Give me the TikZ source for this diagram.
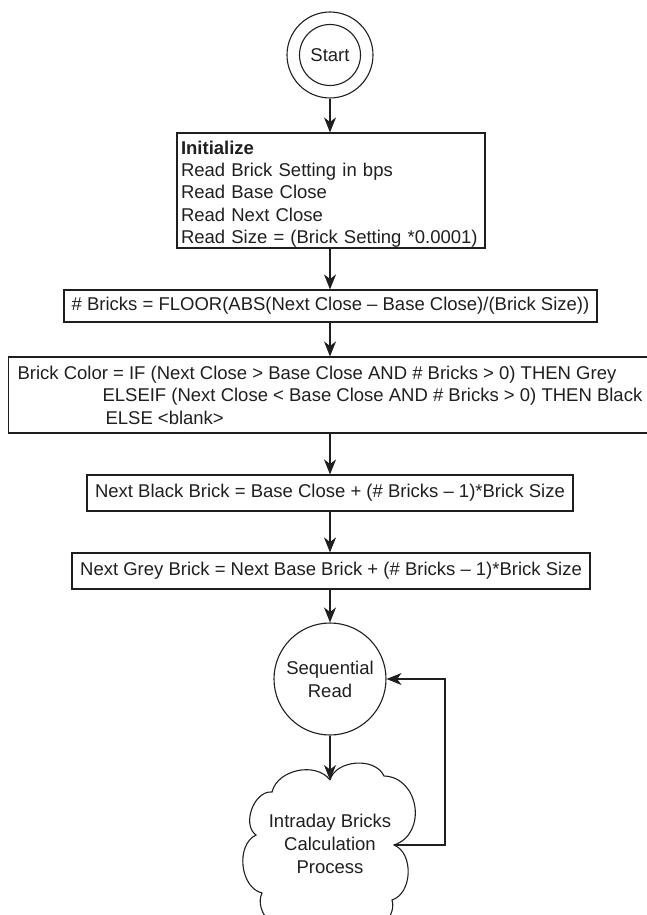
\documentclass[tikz,border=0pt]{standalone}
\usepackage{fontspec}
\setmainfont{Liberation Sans}
\usetikzlibrary{arrows.meta}
\begin{document}
\begin{tikzpicture}[x=1pt,y=-1pt,line width=1.1pt,
  every node/.style={font=\fontsize{18.5}{23}\selectfont, text=black!88},
  box/.style={draw=black!88, rectangle, inner sep=0pt},
  arr/.style={draw=black!88,-{Stealth[length=15pt,width=12pt,inset=4.5pt]}}]
\useasboundingbox (0,0) rectangle (646,915);

\node[circle, draw=black!88, minimum size=86pt, inner sep=0pt] (start) at (330,55) {};
\node[circle, draw=black!88, minimum size=61pt, inner sep=0pt] (startin) at (330,55) {Start};

\node[box, minimum width=308pt, text width=300pt, align=left,
      text height=21pt, text depth=94pt, font=\fontsize{18.5}{22.4}\selectfont] (init) at (331,190.5)
  {\textbf{Initialize}\\Read Brick Setting in bps\\Read Base Close\\Read Next Close\\Read Size = (Brick Setting *0.0001)};

\node[box, minimum width=533pt, minimum height=32pt] (bricks) at (330.5,306)
  {\# Bricks = FLOOR(ABS(Next Close – Base Close)/(Brick Size))};

\node[box, anchor=west, inner xsep=9pt, minimum height=76pt, align=left, font=\fontsize{18.5}{22.5}\selectfont] (color) at (8,395)
  {Brick Color = IF (Next Close > Base Close AND \# Bricks > 0) THEN Grey\\
   \hspace*{85pt}ELSEIF (Next Close < Base Close AND \# Bricks > 0) THEN Black\\
   \hspace*{88pt}ELSE <blank>};

\node[box, minimum width=486pt, minimum height=36pt] (black) at (330,493)
  {Next Black Brick = Base Close + (\# Bricks – 1)*Brick Size};

\node[box, minimum width=518pt, minimum height=36pt] (grey) at (331,571)
  {Next Grey Brick = Next Base Brick + (\# Bricks – 1)*Brick Size};

\node[circle, draw=black!88, minimum size=112pt, inner sep=0pt, align=center] (seq) at (330,679)
  {Sequential\\Read};

% cloud outline
\draw[black!88] (330,780) to[bend left=70] (384,776)
  to[bend left=80, looseness=1.3] (394,845)
  to[bend left=70] (392,900)
  to[bend left=70] (350,932)
  to[bend left=60] (300,932)
  to[bend left=70] (262,893)
  to[bend left=70] (256,835)
  to[bend left=75] (272,792)
  to[bend left=65] (330,780);
\node[align=center, inner sep=0pt] (cloud) at (330,844) {Intraday Bricks\\Calculation\\Process};
\coordinate (ctop) at (330,780);
\coordinate (cright) at (394,845);
\coordinate (fbx) at (445,0);

\draw[arr] (start.south) -- (start.south |- init.north);
\draw[arr] (init.south -| start.south) -- (start.south |- bricks.north);
\draw[arr] (bricks.south -| start.south) -- (start.south |- color.north);
\draw[arr] (color.south -| start.south) -- (start.south |- black.north);
\draw[arr] (black.south -| start.south) -- (start.south |- grey.north);
\draw[arr] (grey.south -| seq.north) -- (seq.north);
\draw[arr] (seq.south) -- (ctop);
\draw[arr] (cright) -- (cright -| fbx) |- (seq.east);
\end{tikzpicture}
\end{document}
